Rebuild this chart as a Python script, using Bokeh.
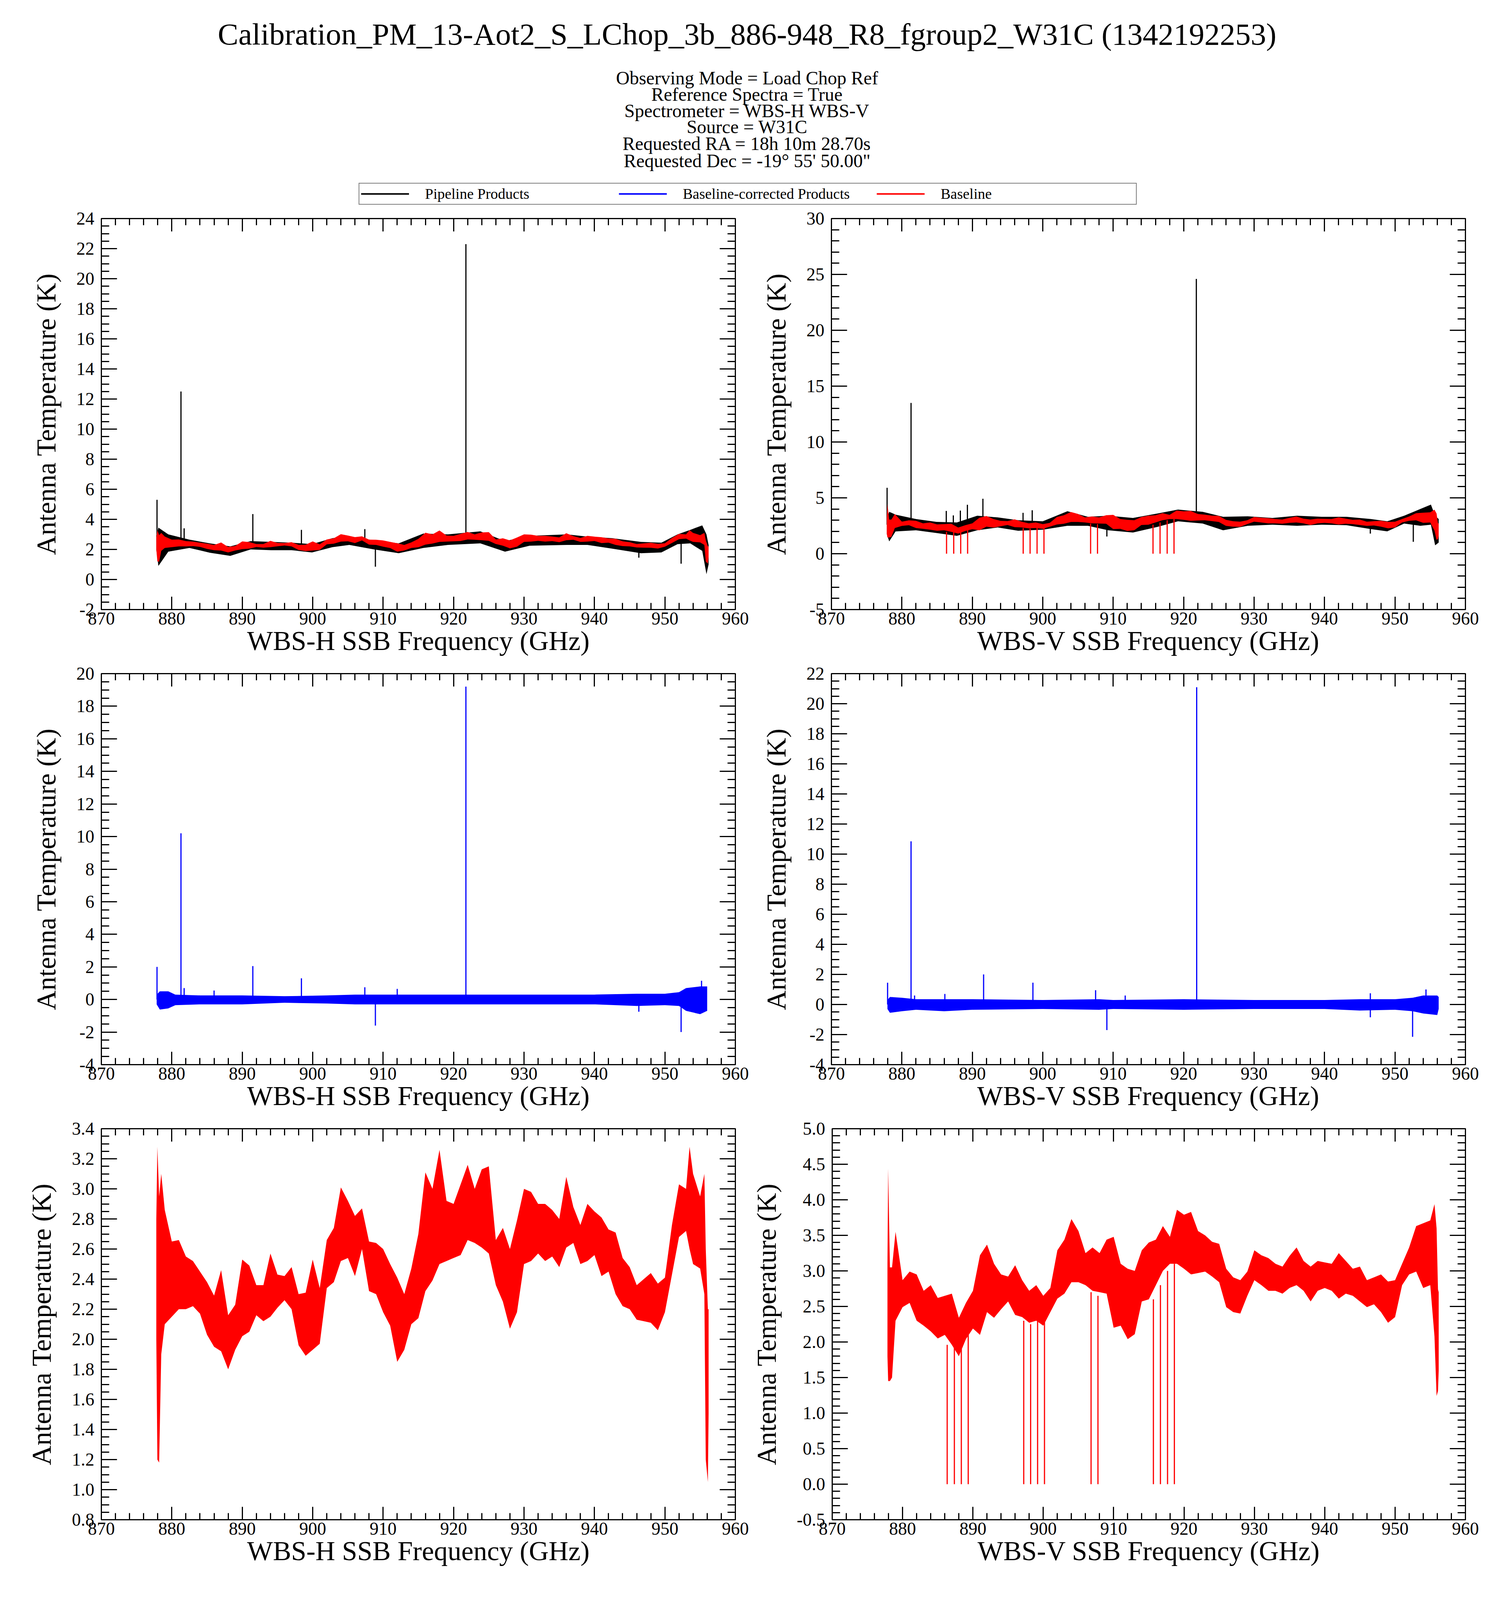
from bokeh.plotting import figure
from bokeh.models import (Range1d, LinearAxis, FixedTicker, PrintfTickFormatter,
                          Legend, LegendItem, CustomLabelingPolicy)
from bokeh.layouts import column, row
from bokeh.embed import file_html
from bokeh.resources import INLINE
from bokeh.core.properties import value

# ---------------------------------------------------------------- texts
TITLE = "Calibration_PM_13-Aot2_S_LChop_3b_886-948_R8_fgroup2_W31C (1342192253)"
SUBTITLE_LINES = [
    "Observing Mode = Load Chop Ref",
    "Reference Spectra = True",
    "Spectrometer = WBS-H WBS-V",
    "Source = W31C",
    "Requested RA = 18h 10m 28.70s",
    "Requested Dec = -19\u00b0 55' 50.00\"",
]
LEGEND_LABELS = ["Pipeline Products", "Baseline-corrected Products", "Baseline"]
Y_LABEL = "Antenna Temperature (K)"
X_LABEL_H = "WBS-H SSB Frequency (GHz)"
X_LABEL_V = "WBS-V SSB Frequency (GHz)"

# ---------------------------------------------------------------- tick values
X_TICKS = [870, 880, 890, 900, 910, 920, 930, 940, 950, 960]
Y_TICKS_TOP_H = [-2, 0, 2, 4, 6, 8, 10, 12, 14, 16, 18, 20, 22, 24]
Y_TICKS_TOP_V = [-5, 0, 5, 10, 15, 20, 25, 30]
Y_TICKS_MID_H = [-4, -2, 0, 2, 4, 6, 8, 10, 12, 14, 16, 18, 20]
Y_TICKS_MID_V = [-4, -2, 0, 2, 4, 6, 8, 10, 12, 14, 16, 18, 20, 22]
Y_TICKS_BOT_H = [0.8, 1.0, 1.2, 1.4, 1.6, 1.8, 2.0, 2.2, 2.4, 2.6, 2.8, 3.0, 3.2, 3.4]
Y_TICKS_BOT_V = [-0.5, 0.0, 0.5, 1.0, 1.5, 2.0, 2.5, 3.0, 3.5, 4.0, 4.5, 5.0]

# ---------------------------------------------------------------- WBS-H baseline envelope (K)
H_BASE_FREQ = [877.8, 877.95, 878.2, 878.5, 879,
               880, 881, 882, 883, 884, 885, 886, 887, 888, 889,
               890, 891, 892, 893, 894, 895, 896, 897, 898, 899,
               900, 901, 902, 903, 904, 905, 906, 907, 908, 909,
               910, 911, 912, 913, 914, 915, 916, 917, 918, 919,
               920, 921, 922, 923, 924, 925, 926, 927, 928, 929,
               930, 931, 932, 933, 934, 935, 936, 937, 938, 939,
               940, 941, 942, 943, 944, 945, 946, 947, 948, 949,
               950, 951, 952, 953,
               953.5, 954, 955, 955.6, 955.8, 956.1, 956.2]
H_BASE_LO = [2.00, 1.20, 1.18, 1.90, 2.10,
             2.15, 2.20, 2.20, 2.22, 2.17, 2.03, 1.95, 1.92, 1.80, 1.93,
             2.02, 2.05, 2.16, 2.12, 2.15, 2.21, 2.26, 2.20, 1.96, 1.89,
             1.93, 1.97, 2.34, 2.38, 2.52, 2.54, 2.42, 2.60, 2.32, 2.30,
             2.18, 2.09, 1.85, 1.93, 2.10, 2.14, 2.32, 2.39, 2.50, 2.52,
             2.54, 2.56, 2.66, 2.64, 2.61, 2.57, 2.36, 2.25, 2.07, 2.18,
             2.50, 2.52, 2.57, 2.52, 2.55, 2.48, 2.61, 2.64, 2.50, 2.52,
             2.56, 2.42, 2.45, 2.30, 2.22, 2.20, 2.13, 2.12, 2.11, 2.06,
             2.18, 2.43, 2.68, 2.72,
             2.60, 2.50, 2.47, 2.30, 1.20, 1.05, 1.50]
H_BASE_HI = [2.80, 3.28, 2.95, 3.10, 2.86,
             2.65, 2.66, 2.55, 2.52, 2.45, 2.38, 2.29, 2.46, 2.16, 2.23,
             2.53, 2.49, 2.36, 2.36, 2.57, 2.43, 2.42, 2.48, 2.30, 2.31,
             2.53, 2.34, 2.66, 2.74, 3.01, 2.92, 2.82, 2.87, 2.65, 2.64,
             2.60, 2.50, 2.41, 2.30, 2.47, 2.70, 3.11, 3.00, 3.26, 2.92,
             2.90, 3.03, 3.16, 3.00, 3.13, 3.15, 2.66, 2.74, 2.60, 2.79,
             3.00, 2.98, 2.90, 2.90, 2.86, 2.80, 3.08, 2.88, 2.76, 2.90,
             2.85, 2.81, 2.73, 2.71, 2.54, 2.48, 2.36, 2.40, 2.44, 2.37,
             2.41, 2.76, 3.03, 3.00,
             3.28, 3.10, 2.95, 3.10, 2.60, 2.20, 2.20]

# ---------------------------------------------------------------- WBS-V baseline envelope (K)
V_BASE_FREQ = [877.85, 877.95, 878.2, 878.5, 879,
               880, 881, 882, 883, 884, 885, 886, 887, 888, 889,
               890, 891, 892, 893, 894, 895, 896, 897, 898, 899,
               900, 901, 902, 903, 904, 905, 906, 907, 908, 909,
               910, 911, 912, 913, 914, 915, 916, 917, 918, 919,
               920, 921, 922, 923, 924, 925, 926, 927, 928, 929,
               930, 931, 932, 933, 934, 935, 936, 937, 938, 939,
               940, 941, 942, 943, 944, 945, 946, 947, 948, 949,
               950, 951, 952, 953, 954, 955,
               955.6, 955.9, 956.1, 956.2]
V_BASE_LO = [1.80, 1.45, 1.45, 1.50, 2.30,
             2.49, 2.55, 2.30, 2.23, 2.15, 2.05, 2.10, 1.96, 1.80, 2.04,
             2.19, 2.10, 2.42, 2.34, 2.46, 2.57, 2.38, 2.35, 2.27, 2.30,
             2.23, 2.42, 2.61, 2.68, 2.84, 2.84, 2.80, 2.72, 2.70, 2.68,
             2.20, 2.23, 2.04, 2.11, 2.57, 2.60, 2.80, 3.00, 3.10, 3.10,
             3.03, 2.95, 2.97, 2.99, 2.92, 2.84, 2.49, 2.42, 2.40, 2.65,
             2.87, 2.80, 2.72, 2.72, 2.68, 2.76, 2.80, 2.72, 2.57, 2.72,
             2.76, 2.72, 2.61, 2.68, 2.65, 2.57, 2.49, 2.53, 2.42, 2.27,
             2.35, 2.80, 2.95, 2.99, 2.76, 2.80,
             2.08, 1.24, 1.31, 1.60]
V_BASE_HI = [3.10, 4.44, 3.05, 3.05, 3.55,
             2.87, 2.99, 2.95, 2.72, 2.80, 2.62, 2.65, 2.68, 2.34, 2.55,
             2.72, 3.22, 3.37, 3.10, 2.95, 2.92, 3.08, 2.87, 2.72, 2.80,
             2.65, 2.76, 3.29, 3.44, 3.73, 3.56, 3.25, 3.33, 3.25, 3.44,
             3.48, 3.10, 3.03, 3.00, 3.29, 3.40, 3.44, 3.63, 3.48, 3.86,
             3.79, 3.83, 3.56, 3.50, 3.41, 3.38, 3.03, 2.91, 2.87, 2.99,
             3.29, 3.22, 3.18, 3.10, 3.06, 3.21, 3.33, 3.14, 3.06, 3.14,
             3.12, 3.10, 3.25, 3.14, 3.03, 3.06, 2.87, 2.91, 2.95, 2.85,
             2.87, 3.10, 3.33, 3.63, 3.67, 3.71,
             3.94, 3.60, 2.74, 2.70]
# baseline channels that drop to zero (WBS-V)
V_DROP_FREQ = [886.34, 887.36, 888.35, 889.33, 897.22, 898.20, 899.19, 900.17,
               906.79, 907.77, 915.65, 916.65, 917.66, 918.63]
V_DROP_TOP = [1.96, 2.00, 1.90, 2.10, 2.30, 2.25, 2.30, 2.30,
              2.70, 2.65, 2.60, 2.80, 3.00, 3.10]
V_DROP_FLOOR = [0.0] * len(V_DROP_FREQ)

# ---------------------------------------------------------------- baseline-corrected noise envelopes (K)
H_CORR_FREQ = [877.85, 878.3, 879.5, 880.5, 884, 890, 896, 902, 906, 912,
               920, 930, 940, 946, 950, 952, 953, 955, 956.0]
H_CORR_LO = [-0.30, -0.62, -0.55, -0.35, -0.30, -0.30, -0.20, -0.25, -0.30, -0.30,
             -0.30, -0.30, -0.30, -0.40, -0.35, -0.40, -0.70, -0.90, -0.70]
H_CORR_HI = [0.30, 0.50, 0.50, 0.30, 0.25, 0.25, 0.20, 0.25, 0.30, 0.30,
             0.30, 0.30, 0.30, 0.35, 0.35, 0.45, 0.70, 0.80, 0.80]
H_CORR_LINE_FREQ = [877.9, 881.3, 881.75, 886.0, 891.5, 898.4, 907.4, 908.9, 912.0,
                    921.75, 946.3, 952.3, 955.2]
H_CORR_LINE_PEAK = [2.0, 10.2, 0.7, 0.55, 2.05, 1.3, 0.75, -1.6, 0.65,
                    19.2, -0.75, -2.0, 1.15]

V_CORR_FREQ = [877.95, 878.3, 880, 882, 886, 890, 900, 908, 910, 920,
               930, 940, 945, 950, 952.5, 954, 956.0, 956.2]
V_CORR_LO = [-0.30, -0.55, -0.45, -0.35, -0.45, -0.35, -0.30, -0.35, -0.30, -0.35,
             -0.30, -0.30, -0.40, -0.35, -0.45, -0.60, -0.70, -0.30]
V_CORR_HI = [0.30, 0.50, 0.45, 0.35, 0.35, 0.35, 0.30, 0.35, 0.30, 0.35,
             0.30, 0.30, 0.35, 0.35, 0.45, 0.60, 0.60, 0.50]
V_CORR_LINE_FREQ = [877.97, 881.3, 881.8, 886.1, 891.6, 898.6, 907.5, 909.1, 911.7,
                    921.85, 946.5, 946.5, 952.5, 954.4]
V_CORR_LINE_PEAK = [1.45, 10.85, 0.6, 0.7, 2.0, 1.45, 0.95, -1.7, 0.6,
                    21.1, -0.85, 0.75, -2.15, 1.0]

# ---------------------------------------------------------------- pipeline product envelopes (K)
H_PIPE_FREQ = [877.8, 878.1, 879.5, 882.5, 885.4, 888.3, 891.2, 894.1, 897.0, 899.9,
               902.8, 905.2, 908.7, 912.2, 915.7, 919.2, 923.8, 927.3, 930.8, 936.1,
               939.0, 942.5, 946.6, 949.5, 951.8, 953.6, 955.3, 955.9, 956.2]
H_PIPE_LO = [2.0, 0.9, 1.85, 2.1, 1.78, 1.57, 2.0, 1.95, 1.95, 1.8,
             2.15, 2.3, 2.0, 1.75, 2.1, 2.3, 2.4, 1.85, 2.25, 2.3,
             2.3, 2.05, 1.75, 1.8, 2.35, 2.4, 1.9, 0.35, 1.0]
H_PIPE_HI = [2.9, 3.45, 3.0, 2.65, 2.4, 2.2, 2.55, 2.5, 2.45, 2.35,
             2.75, 2.85, 2.6, 2.4, 3.05, 3.0, 3.2, 2.55, 2.9, 3.0,
             2.85, 2.75, 2.5, 2.45, 3.0, 3.3, 3.6, 3.0, 2.3]
H_PIPE_LINE_FREQ = [877.9, 881.3, 881.75, 891.5, 898.4, 907.4, 921.75, 908.9, 946.3, 952.3]
H_PIPE_LINE_PEAK = [5.3, 12.5, 3.4, 4.35, 3.3, 3.35, 22.3, 0.85, 1.45, 1.05]
H_PIPE_LINE_BASE = [2.5, 2.5, 2.5, 2.4, 2.3, 2.7, 2.9, 2.4, 2.2, 2.8]

V_PIPE_FREQ = [877.85, 878.2, 879.1, 882.0, 884.9, 887.8, 890.7, 893.6, 896.5, 900.0,
               903.5, 906.4, 909.3, 912.8, 916.3, 919.2, 922.7, 925.6, 929.1, 932.6,
               936.1, 939.6, 943.1, 946.6, 948.9, 951.3, 953.6, 955.1, 955.7, 956.2]
V_PIPE_LO = [1.8, 1.1, 1.99, 2.1, 1.85, 1.6, 2.1, 2.35, 2.05, 2.15,
             2.5, 2.5, 2.1, 1.9, 2.4, 2.9, 2.7, 2.1, 2.5, 2.6,
             2.5, 2.6, 2.55, 2.2, 2.0, 2.7, 2.5, 2.6, 0.75, 1.0]
V_PIPE_HI = [3.1, 3.75, 3.5, 3.1, 2.85, 2.8, 3.4, 3.25, 3.0, 2.9,
             3.8, 3.3, 3.4, 3.2, 3.6, 3.95, 3.75, 3.3, 3.35, 3.2,
             3.4, 3.3, 3.3, 3.1, 2.9, 3.4, 4.0, 4.4, 3.4, 3.1]
V_PIPE_LINE_FREQ = [877.9, 881.3, 886.3, 887.3, 888.3, 889.3, 891.5, 897.2, 898.5,
                    921.8, 909.1, 946.5, 952.6]
V_PIPE_LINE_PEAK = [5.9, 13.5, 3.83, 3.43, 3.86, 4.38, 4.92, 3.66, 3.89,
                    24.6, 1.54, 1.8, 1.07]
V_PIPE_LINE_BASE = [2.6, 2.6, 2.4, 2.4, 2.3, 2.4, 2.8, 2.6, 2.5,
                    3.3, 2.8, 2.6, 3.0]

# ---------------------------------------------------------------- styling / layout
FONT = "Liberation Serif"
BLACK, BLUE, RED = "#000000", "#0000ff", "#ff0000"
PAGE_W = 3824
HEADER_H = 533
ROW_H = 1165
FRAME_W, FRAME_H = 1623, 1001
BORDER_TOP = 26
LEFT_W, RIGHT_W = 1920, 1896
TICK_FONT = "46px"
LABEL_FONT = "70px"

HIDE_LABELS = CustomLabelingPolicy(code="return new Set()")


def minor_ticks(lo, hi, step):
    n = int(round((hi - lo) / step))
    return [round(lo + k * step, 4) for k in range(n + 1)]


def style_axis(ax, major_len, minor_len, labels=True, label_text=None):
    ax.major_tick_in = major_len
    ax.major_tick_out = 0
    ax.minor_tick_in = minor_len
    ax.minor_tick_out = 0
    ax.major_tick_line_width = 3
    ax.minor_tick_line_width = 3
    ax.major_tick_line_color = "black"
    ax.minor_tick_line_color = "black"
    ax.axis_line_width = 3
    ax.axis_line_color = "black"
    if labels:
        ax.major_label_text_font = FONT
        ax.major_label_text_font_size = TICK_FONT
        ax.major_label_text_color = "black"
        ax.axis_label = label_text
        ax.axis_label_text_font = FONT
        ax.axis_label_text_font_size = LABEL_FONT
        ax.axis_label_text_font_style = "normal"
        ax.axis_label_text_color = "black"
    else:
        ax.major_label_policy = HIDE_LABELS
        ax.major_label_standoff = 0


def make_panel(width, left_border, y_ticks, y_minor_step, y_fmt, x_label):
    y0, y1 = y_ticks[0], y_ticks[-1]
    p = figure(width=width, height=ROW_H, x_range=Range1d(870, 960), y_range=Range1d(y0, y1),
               x_axis_type=None, y_axis_type=None, output_backend="svg", toolbar_location=None,
               min_border_left=left_border, min_border_right=width - left_border - FRAME_W,
               min_border_top=BORDER_TOP, min_border_bottom=ROW_H - BORDER_TOP - FRAME_H,
               outline_line_color="black", outline_line_width=3,
               background_fill_color="white", border_fill_color="white")
    xt = FixedTicker(ticks=X_TICKS, minor_ticks=minor_ticks(870, 960, 2))
    yt = FixedTicker(ticks=y_ticks, minor_ticks=minor_ticks(y0, y1, y_minor_step))
    xb = LinearAxis(ticker=xt, formatter=PrintfTickFormatter(format="%d"))
    style_axis(xb, 33, 17, True, x_label)
    xb.major_label_standoff = 7
    xb.axis_label_standoff = 0
    p.add_layout(xb, "below")
    xa = LinearAxis(ticker=xt)
    style_axis(xa, 33, 17, False)
    p.add_layout(xa, "above")
    yl = LinearAxis(ticker=yt, formatter=PrintfTickFormatter(format=y_fmt))
    style_axis(yl, 40, 20, True, Y_LABEL)
    yl.major_label_standoff = 18
    yl.axis_label_standoff = 36
    p.add_layout(yl, "left")
    yr = LinearAxis(ticker=yt)
    style_axis(yr, 40, 20, False)
    p.add_layout(yr, "right")
    return p


def draw_pipeline(p, f, lo, hi, lf, lpk, lbase):
    p.varea(x=f, y1=lo, y2=hi, fill_color=BLACK)
    p.segment(x0=lf, y0=lbase, x1=lf, y1=lpk, line_color=BLACK, line_width=3)


def draw_baseline(p, f, lo, hi, drops=None):
    p.varea(x=f, y1=lo, y2=hi, fill_color=RED)
    if drops is not None:
        df, dtop, dfloor = drops
        p.segment(x0=df, y0=dtop, x1=df, y1=dfloor, line_color=RED, line_width=3)


def draw_corrected(p, f, lo, hi, lf, lpk):
    p.varea(x=f, y1=lo, y2=hi, fill_color=BLUE)
    p.segment(x0=lf, y0=[0.0] * len(lf), x1=lf, y1=lpk, line_color=BLUE, line_width=3)


# ---------------------------------------------------------------- header
header = figure(width=PAGE_W, height=HEADER_H, x_range=Range1d(0, PAGE_W), y_range=Range1d(0, HEADER_H),
                x_axis_type=None, y_axis_type=None, output_backend="svg", toolbar_location=None,
                min_border=0, outline_line_color=None)
cx = PAGE_W / 2
header.text(x=[cx], y=[HEADER_H - 87], text=[TITLE], text_font=value(FONT), text_font_size="79px",
            text_align="center", text_baseline="alphabetic", text_color="black")
sub_y = [HEADER_H - d for d in (199, 241, 283, 324, 367, 411)]
header.text(x=[cx] * len(SUBTITLE_LINES), y=sub_y, text=SUBTITLE_LINES, text_font=value(FONT),
            text_font_size="48px", text_align="center", text_baseline="alphabetic", text_color="black")
NAN = float("nan")
leg_r = [header.line(x=[NAN, NAN], y=[NAN, NAN], line_color=c, line_width=4) for c in (BLACK, BLUE, RED)]
legend = Legend(items=[LegendItem(label=lab, renderers=[r]) for lab, r in zip(LEGEND_LABELS, leg_r)],
                orientation="horizontal", location=(918, 9), spacing=0, padding=4, margin=0,
                glyph_width=123, glyph_height=36, label_standoff=41, label_width=496, label_height=36,
                label_text_font=FONT, label_text_font_size="38px", label_text_color="black",
                border_line_color="black", border_line_width=2, background_fill_color="white",
                background_fill_alpha=1.0)
header.add_layout(legend)

# ---------------------------------------------------------------- panels
p1 = make_panel(LEFT_W, 259, Y_TICKS_TOP_H, 0.5, "%d", X_LABEL_H)
draw_pipeline(p1, H_PIPE_FREQ, H_PIPE_LO, H_PIPE_HI, H_PIPE_LINE_FREQ, H_PIPE_LINE_PEAK, H_PIPE_LINE_BASE)
draw_baseline(p1, H_BASE_FREQ, H_BASE_LO, H_BASE_HI)

p2 = make_panel(RIGHT_W, 208, Y_TICKS_TOP_V, 1.0, "%d", X_LABEL_V)
draw_pipeline(p2, V_PIPE_FREQ, V_PIPE_LO, V_PIPE_HI, V_PIPE_LINE_FREQ, V_PIPE_LINE_PEAK, V_PIPE_LINE_BASE)
draw_baseline(p2, V_BASE_FREQ, V_BASE_LO, V_BASE_HI, (V_DROP_FREQ, V_DROP_TOP, V_DROP_FLOOR))

p3 = make_panel(LEFT_W, 259, Y_TICKS_MID_H, 0.5, "%d", X_LABEL_H)
draw_corrected(p3, H_CORR_FREQ, H_CORR_LO, H_CORR_HI, H_CORR_LINE_FREQ, H_CORR_LINE_PEAK)

p4 = make_panel(RIGHT_W, 208, Y_TICKS_MID_V, 0.5, "%d", X_LABEL_V)
draw_corrected(p4, V_CORR_FREQ, V_CORR_LO, V_CORR_HI, V_CORR_LINE_FREQ, V_CORR_LINE_PEAK)

p5 = make_panel(LEFT_W, 259, Y_TICKS_BOT_H, 0.05, "%.1f", X_LABEL_H)
draw_baseline(p5, H_BASE_FREQ, H_BASE_LO, H_BASE_HI)

p6 = make_panel(RIGHT_W, 208, Y_TICKS_BOT_V, 0.1, "%.1f", X_LABEL_V)
draw_baseline(p6, V_BASE_FREQ, V_BASE_LO, V_BASE_HI, (V_DROP_FREQ, V_DROP_TOP, V_DROP_FLOOR))

layout = column(header, row(p1, p2), row(p3, p4), row(p5, p6), spacing=0)
open("out.html", "w").write(file_html(layout, INLINE))
